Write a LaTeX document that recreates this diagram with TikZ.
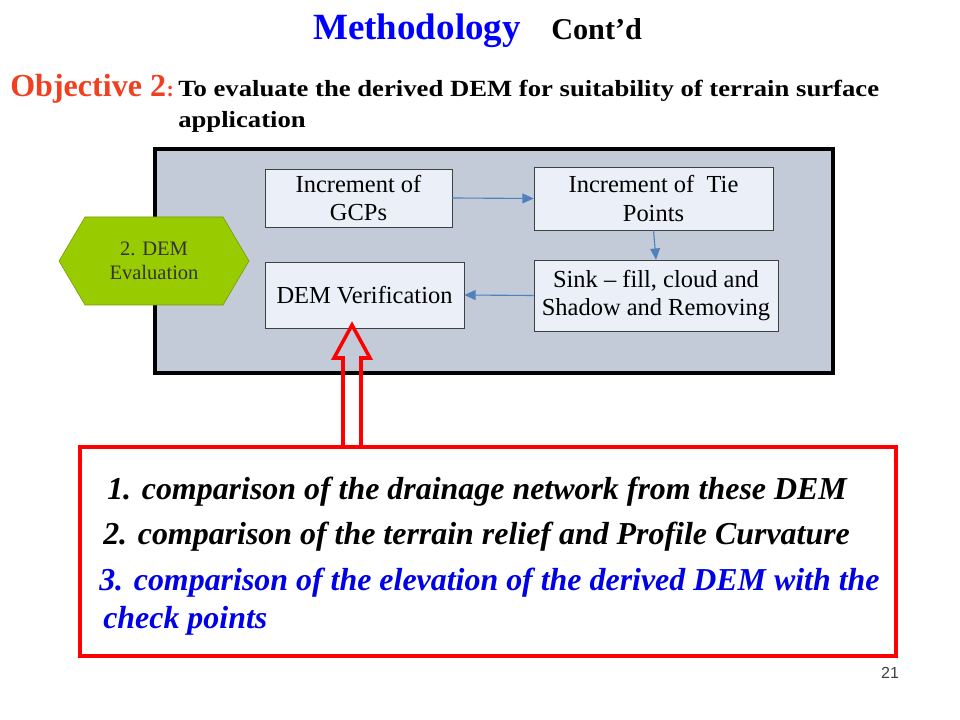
\documentclass[tikz,border=0pt]{standalone}
\usepackage{fontspec}
\setmainfont{Liberation Serif}
\newfontfamily\widefont[FakeStretch=1.15]{Liberation Serif}
\newfontfamily\numfont{Liberation Sans}
\usetikzlibrary{arrows.meta, positioning}

\definecolor{panelgray}{RGB}{195,202,216}
\definecolor{boxfill}{RGB}{234,239,248}
\definecolor{hexgreen}{RGB}{153,204,0}
\definecolor{flowblue}{RGB}{79,129,189}
\definecolor{objred}{RGB}{240,64,32}
\definecolor{itemblue}{RGB}{0,0,230}

\tikzset{
  txt/.style={anchor=base west, inner sep=0pt},
  proc/.style={draw=black!75, fill=boxfill, align=center, inner sep=0pt,
    font=\fontsize{17.4}{20.5}\selectfont},
  flow/.style={-{Triangle[length=8pt,width=7pt]}, flowblue, line width=0.8pt},
  item/.style={txt, font=\fontsize{22.7}{26}\selectfont\bfseries\itshape},
}

\begin{document}
\begin{tikzpicture}[x=0.025cm, y=-0.025cm]
      \useasboundingbox (0,0) rectangle (960,720);

      % heading
      \node[txt, text=blue, font=\fontsize{26.3}{30}\selectfont\bfseries] at (313,40) (title) {Methodology};
      \node[txt, font=\fontsize{21.5}{26}\selectfont\bfseries] at (551,40) (contd) {Cont’d};

      \node[txt, text=objred, font=\fontsize{22.8}{26}\selectfont\bfseries] at (10,97) (obj) {Objective 2};
      \node[txt, text=objred, font=\fontsize{15.6}{20}\selectfont\bfseries] at (obj.base east) (colon) {:};
      \node[txt, font=\widefont\bfseries\fontsize{16.5}{20}\selectfont] at (178,97) (aim) {To evaluate the derived DEM for suitability of terrain surface};
      \node[txt, font=\widefont\bfseries\fontsize{16.5}{20}\selectfont] at (178,128) (aim2) {application};

      % grey panel with the steps
      \draw[line width=2.5pt, fill=panelgray] (155,149) rectangle (833,373);

      \draw[draw=hexgreen!75!black, fill=hexgreen] (59,261) -- (85,217) -- (223,217) -- (249,261) -- (223,305) -- (85,305) -- cycle;
      \node[align=center, text=black!80, font=\fontsize{14.6}{17.5}\selectfont] at (154,261) (eval) {2. DEM\\Evaluation};

      \node[proc, minimum width=4.675cm, minimum height=1.45cm] at (358.5,198) (gcp) {Increment of\\GCPs};
      \node[proc, minimum width=5.975cm, minimum height=1.575cm] at (653.5,198.5) (tie) {Increment of~ Tie\\Points};
      \node[proc, minimum width=6.1cm, minimum height=1.775cm] at (656,295.5) (sink) {Sink – fill, cloud and\\Shadow and Removing};
      \node[proc, minimum width=4.975cm, minimum height=1.65cm] at (364.5,295) (verif) {DEM Verification};

      \draw[flow] (gcp.east) -- (tie.west);
      \draw[flow] (tie.south) -- (sink.north);
      \draw[flow] (sink.west) -- (verif.east);

      % red box with the checks
      \node[draw=red, line width=2.5pt, minimum width=20.4cm, minimum height=5.225cm] at (488,551.5) (checks) {};
      \node[item] at (107,500) (cmp1) {1. comparison of the drainage network from these DEM};
      \node[item] at (103,544) (cmp2) {2. comparison of the terrain relief and Profile Curvature};
      \node[item, text=itemblue] at (99,590) (cmp3) {3. comparison of the elevation of the derived DEM with the};
      \node[item, text=itemblue] at (103,628) (cmp4) {check points};

      \coordinate (foot) at (351.5,447);
      \draw[red, line width=2.5pt, miter limit=10] (foot) ++(-8.5,0) -- ++(0,-89) -- ++(-9,0) -- ++(18,-33) -- ++(18,33) -- ++(-9,0) -- ++(0,89);

      \node[anchor=base, inner sep=0pt, text=black!75, font=\numfont\fontsize{11.4}{13}\selectfont] at (890,678) (page) {21};
    \end{tikzpicture}
\end{document}
